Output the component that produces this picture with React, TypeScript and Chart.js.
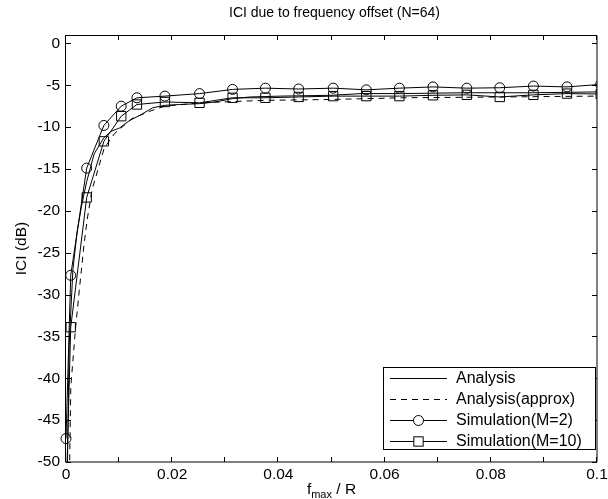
import React, { useEffect, useRef } from 'react';
import { Chart, registerables } from 'chart.js';

Chart.register(...registerables);

const FONT = '"Liberation Sans", Arial, Helvetica, sans-serif';

const titleText = 'ICI due to frequency offset (N=64)';
const yAxisTitle = 'ICI (dB)';
const xTitleMain = 'f';
const xTitleSub = 'max';
const xTitleRest = ' / R';

const xTickValues = [0, 0.01, 0.02, 0.03, 0.04, 0.05, 0.06, 0.07, 0.08, 0.09, 0.1];
const xTickLabels = ['0', '', '0.02', '', '0.04', '', '0.06', '', '0.08', '', '0.1'];
const yTickValues = [-50, -45, -40, -35, -30, -25, -20, -15, -10, -5, 0];
const yTickLabels = ['-50', '-45', '-40', '-35', '-30', '-25', '-20', '-15', '-10', '-5', '0'];

const seriesLabels = ['Analysis', 'Analysis(approx)', 'Simulation(M=2)', 'Simulation(M=10)'];

// Simulation x positions (f_max / R)
const simX = [0, 0.00089, 0.0039, 0.00713, 0.0104, 0.01336, 0.01863, 0.02515, 0.03137, 0.03755, 0.04382, 0.05032, 0.05656, 0.06279, 0.06911, 0.07548, 0.08169, 0.08802, 0.09435, 0.1007];
const simM2 = [-47.2, -27.7, -14.9, -9.8, -7.5, -6.5, -6.3, -6.0, -5.5, -5.35, -5.45, -5.35, -5.55, -5.35, -5.2, -5.35, -5.3, -5.1, -5.2, -4.9];
const simM10 = [-55, -33.9, -18.4, -11.7, -8.7, -7.3, -7.0, -7.1, -6.5, -6.5, -6.4, -6.3, -6.3, -6.3, -6.2, -6.15, -6.4, -6.15, -6.0, -6.05];

const analysisX = [0, 0.0006, 0.0013, 0.0021, 0.0029, 0.0039, 0.0053, 0.0071, 0.0085, 0.0101, 0.012, 0.0139, 0.0163, 0.0186, 0.0214, 0.0252, 0.0281, 0.0313, 0.0347, 0.0404, 0.0499, 0.0556, 0.0632, 0.0746, 0.0879, 0.1];
const analysisY = [-62, -36, -27, -22.5, -19.5, -16.5, -13.2, -11.3, -10.5, -10.1, -9.2, -8.6, -7.7, -7.4, -7.3, -7.2, -7.0, -6.6, -6.4, -6.3, -6.2, -6.0, -6.0, -5.9, -5.9, -5.8];

const approxX = [0, 0.0009, 0.0018, 0.0025, 0.0034, 0.004, 0.0049, 0.0072, 0.0091, 0.0124, 0.0158, 0.0186, 0.0253, 0.0376, 0.05, 0.0633, 0.0823, 0.1];
const approxY = [-80, -41, -34, -29.5, -24, -21, -17.5, -12.5, -10.8, -9, -8.1, -7.5, -7.1, -6.8, -6.7, -6.5, -6.4, -6.3];

const toXY = (xs: number[], ys: number[]) => xs.map((x, i) => ({ x, y: ys[i] }));

const CLIP = { left: 8, right: 0, top: 8, bottom: 0 };

const framePlugin = {
  id: 'frame',
  afterDatasetsDraw(chart: any) {
    const { ctx, chartArea: a, scales } = chart;
    const xs = scales.x;
    const ys = scales.y;
    ctx.save();
    ctx.strokeStyle = '#000';
    ctx.lineWidth = 1;
    ctx.beginPath();
    ctx.rect(a.left - 0.5, a.top + 0.5, a.right - a.left + 0.5, a.bottom - a.top - 0.5);
    ctx.stroke();
    const tl = 5;
    ctx.beginPath();
    xTickValues.forEach((v) => {
      const p = Math.round(xs.getPixelForValue(v)) - 0.5;
      ctx.moveTo(p, a.bottom);
      ctx.lineTo(p, a.bottom - tl);
      ctx.moveTo(p, a.top);
      ctx.lineTo(p, a.top + tl);
    });
    yTickValues.forEach((v) => {
      const p = Math.round(ys.getPixelForValue(v)) + 0.5;
      ctx.moveTo(a.left, p);
      ctx.lineTo(a.left + tl, p);
      ctx.moveTo(a.right, p);
      ctx.lineTo(a.right - tl, p);
    });
    ctx.stroke();
    ctx.restore();
  },
  afterDraw(chart: any) {
    const { ctx, chartArea: a } = chart;
    ctx.save();
    ctx.fillStyle = '#000';
    // Title
    ctx.font = `14px ${FONT}`;
    ctx.textAlign = 'center';
    ctx.textBaseline = 'middle';
    ctx.fillText(titleText, (a.left + a.right) / 2 + 3, 13);
    // Y title
    ctx.save();
    ctx.translate(22, (a.top + a.bottom) / 2);
    ctx.rotate(-Math.PI / 2);
    ctx.font = `15.5px ${FONT}`;
    ctx.fillText(yAxisTitle, 0, 0);
    ctx.restore();
    // X title with subscript
    const mainFont = `15.5px ${FONT}`;
    const subFont = `11px ${FONT}`;
    ctx.font = mainFont;
    const w1 = ctx.measureText(xTitleMain).width;
    const w3 = ctx.measureText(xTitleRest).width;
    ctx.font = subFont;
    const w2 = ctx.measureText(xTitleSub).width;
    const total = w1 + w2 + w3;
    let x0 = (a.left + a.right) / 2 - total / 2;
    const yb = 494;
    ctx.textAlign = 'left';
    ctx.textBaseline = 'alphabetic';
    ctx.font = mainFont;
    ctx.fillText(xTitleMain, x0, yb);
    x0 += w1;
    ctx.font = subFont;
    ctx.fillText(xTitleSub, x0, yb + 4);
    x0 += w2;
    ctx.font = mainFont;
    ctx.fillText(xTitleRest, x0, yb);

    // Legend
    const bx = 383, by = 367, bw = 212, bh = 82;
    ctx.fillStyle = '#fff';
    ctx.fillRect(bx, by, bw, bh);
    ctx.strokeStyle = '#000';
    ctx.lineWidth = 1;
    ctx.strokeRect(bx + 0.5, by + 0.5, bw, bh);
    chart.data.datasets.forEach((ds: any, i: number) => {
      const ry = Math.round(by + 11 + i * 21) + 0.5;
      ctx.strokeStyle = ds.borderColor;
      ctx.lineWidth = ds.borderWidth;
      ctx.setLineDash(ds.borderDash || []);
      ctx.beginPath();
      ctx.moveTo(390, ry);
      ctx.lineTo(447, ry);
      ctx.stroke();
      ctx.setLineDash([]);
      const mx = 418.5;
      if (ds.pointStyle === 'circle' && ds.pointRadius > 0) {
        ctx.fillStyle = '#fff';
        ctx.beginPath();
        ctx.arc(mx, ry, ds.pointRadius, 0, Math.PI * 2);
        ctx.fill();
        ctx.stroke();
      } else if (ds.pointStyle === 'rect' && ds.pointRadius > 0) {
        const s = ds.pointRadius * Math.SQRT1_2;
        ctx.fillStyle = '#fff';
        ctx.fillRect(mx - s, ry - s, 2 * s, 2 * s);
        ctx.strokeRect(mx - s, ry - s, 2 * s, 2 * s);
      }
      ctx.fillStyle = '#000';
      ctx.font = `16px ${FONT}`;
      ctx.textAlign = 'left';
      ctx.textBaseline = 'middle';
      ctx.fillText(ds.label, 456, ry);
    });
    ctx.restore();
  },
};

export default function App() {
  const ref = useRef<HTMLCanvasElement>(null);
  useEffect(() => {
    const canvas = ref.current;
    if (!canvas) return;
    const common = { borderColor: '#000', borderWidth: 1, tension: 0, clip: CLIP, fill: false };
    const chart = new Chart(canvas, {
      type: 'line',
      data: {
        datasets: [
          { ...common, label: seriesLabels[0], data: toXY(analysisX, analysisY), pointRadius: 0, pointStyle: 'circle' },
          { ...common, label: seriesLabels[1], data: toXY(approxX, approxY), pointRadius: 0, borderDash: [6, 5], pointStyle: 'circle' },
          {
            ...common, label: seriesLabels[2], data: toXY(simX, simM2), pointStyle: 'circle', pointRadius: 5,
            pointBorderColor: '#000', pointBackgroundColor: 'rgba(0,0,0,0)', pointBorderWidth: 1,
          },
          {
            ...common, label: seriesLabels[3], data: toXY(simX, simM10), pointStyle: 'rect', pointRadius: 6.6,
            pointBorderColor: '#000', pointBackgroundColor: 'rgba(0,0,0,0)', pointBorderWidth: 1,
          },
        ] as any,
      },
      options: {
        responsive: false,
        animation: false,
        events: [],
        layout: { padding: { left: 0, right: 11, top: 35, bottom: 0 } },
        plugins: { legend: { display: false }, title: { display: false }, tooltip: { enabled: false } },
        scales: {
          x: {
            type: 'linear',
            min: 0,
            max: 0.1,
            grid: { display: false, drawTicks: false },
            border: { display: false },
            afterBuildTicks: (s: any) => { s.ticks = xTickValues.map((v) => ({ value: v })); },
            afterFit: (s: any) => { s.height = 37; s.paddingLeft = 0; s.paddingRight = 0; },
            ticks: {
              autoSkip: false, maxRotation: 0, minRotation: 0, padding: 3, color: '#000',
              font: { family: FONT, size: 15.5 },
              callback: (_v: any, i: number) => xTickLabels[i],
            },
          },
          y: {
            type: 'linear',
            min: -50,
            max: 1,
            grid: { display: false, drawTicks: false },
            border: { display: false },
            afterBuildTicks: (s: any) => { s.ticks = yTickValues.map((v) => ({ value: v })); },
            afterFit: (s: any) => { s.width = 66; s.paddingTop = 0; s.paddingBottom = 0; },
            ticks: {
              autoSkip: false, padding: 6, color: '#000',
              font: { family: FONT, size: 15.5 },
              callback: (_v: any, i: number) => yTickLabels[i],
            },
          },
        },
      } as any,
      plugins: [framePlugin],
    });
    return () => chart.destroy();
  }, []);
  return (
    <div style={{ position: 'absolute', left: 0, top: 0, width: 608, height: 499, background: '#fff' }}>
      <canvas ref={ref} width={608} height={499} style={{ display: 'block', width: 608, height: 499 }} />
    </div>
  );
}
